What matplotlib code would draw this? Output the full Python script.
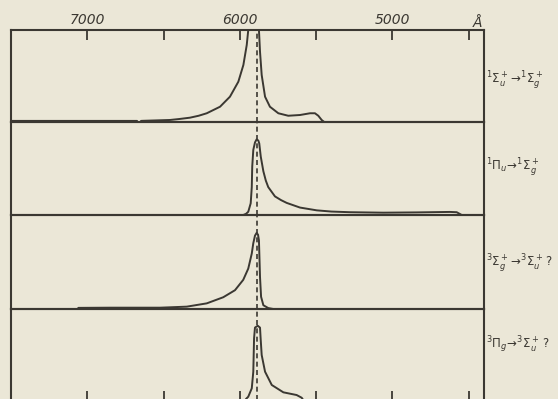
import numpy as np
import matplotlib
matplotlib.use("Agg")
import matplotlib.pyplot as plt

nan = np.nan

# wavelength axis (Angstrom), reversed
x_left, x_right = 7500, 4400
tick_positions = [7000, 6500, 6000, 5500, 5000, 4500]
tick_labels = ["7000", "", "6000", "", "5000", ""]
na_line = 5890  # dashed reference line

labels = [r"$^1\Sigma_u^+\!\rightarrow\!{}^1\Sigma_g^+$",
          r"$^1\Pi_u\!\rightarrow\!{}^1\Sigma_g^+$",
          r"$^3\Sigma_g^+\!\rightarrow\!{}^3\Sigma_u^+\,?$",
          r"$^3\Pi_g\!\rightarrow\!{}^3\Sigma_u^+\,?$"]

# panel 1: 1Σu+ -> 1Σg+
wl1 = [7500, 6674, nan, 6648, 6635, 6458, 6400, 6327, 6270, 6217, 6130, 6065,
       6010, 5977, 5955, 5945, 5925, 5905, 5885, 5875, 5868, 5857, 5835, 5803,
       5748, 5683, 5606, 5540, 5508, 5486, 5464, 5447]
I1 = [0.012, 0.012, nan, 0.012, 0.013, 0.022, 0.032, 0.047, 0.068, 0.095, 0.166,
      0.275, 0.438, 0.62, 0.837, 1.0, 1.5, 1.8, 1.5, 1.0, 0.764, 0.511, 0.275,
      0.166, 0.095, 0.068, 0.076, 0.095, 0.095, 0.068, 0.022, 0.0]

# panel 2: 1Πu -> 1Σg+
wl2 = [6100, 5978, 5960, 5945, 5929, 5922, 5919, 5912, 5901, 5890, 5879, 5873,
       5863, 5846, 5830, 5814, 5770, 5730, 5693, 5606, 5496, 5400, 5278, 5060,
       4841, 4623, 4579, 4546]
I2 = [0.0, 0.0, 0.012, 0.035, 0.126, 0.30, 0.52, 0.70, 0.78, 0.814, 0.80, 0.77,
      0.627, 0.47, 0.37, 0.30, 0.20, 0.16, 0.13, 0.08, 0.05, 0.037, 0.03, 0.025,
      0.028, 0.033, 0.03, 0.0]

# panel 3: 3Σg+ -> 3Σu+ ?
wl3 = [7059, 6851, 6523, 6348, 6217, 6109, 6032, 5978, 5945, 5922, 5912, 5901,
       5890, 5881, 5875, 5868, 5861, 5846, 5814, 5781]
I3 = [0.012, 0.014, 0.014, 0.025, 0.06, 0.125, 0.20, 0.31, 0.43, 0.59, 0.70,
      0.78, 0.81, 0.79, 0.73, 0.34, 0.13, 0.04, 0.01, 0.0]

# panel 4: 3Πg -> 3Σu+ ?
wl4 = [5973, 5960, 5945, 5922, 5912, 5907, 5901, 5883, 5868, 5864, 5857, 5835,
       5791, 5715, 5628, 5595, 5584, 5566]
I4 = [0.0, 0.032, 0.057, 0.147, 0.326, 0.685, 0.80, 0.82, 0.80, 0.685, 0.505,
      0.326, 0.183, 0.104, 0.075, 0.046, 0.02, 0.0]

series = [(wl1, I1), (wl2, I2), (wl3, I3), (wl4, I4)]

bg = "#ebe7d7"
ink = "#3b3832"

W, H = 558, 399
fig = plt.figure(figsize=(W / 100, H / 100), dpi=100, facecolor=bg)

# panel pixel geometry (top, bottom) in image pixels
panel_px = [(30, 122), (122, 215), (215, 309), (309, 402)]
label_y = [80, 167, 263, 345]
left_px, right_px = 11, 484

for i, ((top, bot), (wl, I)) in enumerate(zip(panel_px, series)):
    ax = fig.add_axes([left_px / W, (H - bot) / H, (right_px - left_px) / W, (bot - top) / H])
    ax.set_facecolor("none")
    ax.set_xlim(x_left, x_right)
    ax.set_ylim(0, 1)
    ax.plot(wl, I, color=ink, lw=1.4, solid_joinstyle="round", solid_capstyle="round")
    ax.axvline(na_line, color=ink, lw=1.2, ls=(0, (3, 2)))
    for s in ax.spines.values():
        s.set_color(ink)
        s.set_linewidth(1.5)
    ax.set_yticks([])
    if i == 0:
        ax.xaxis.tick_top()
        ax.set_xticks(tick_positions)
        ax.set_xticklabels(tick_labels, fontsize=10, style="italic", color=ink)
        ax.tick_params(axis="x", direction="in", length=7, width=1.3, color=ink, pad=2)
        ax.text(4440, 1.0, "Å", transform=ax.transData, fontsize=10, style="italic",
                color=ink, ha="center", va="bottom")
    elif i == 3:
        ax.set_xticks(tick_positions)
        ax.set_xticklabels([])
        ax.tick_params(axis="x", direction="in", length=8, width=1.3, color=ink)
    else:
        ax.set_xticks([])
    fig.text(486 / W, 1 - label_y[i] / H, labels[i], fontsize=8.5, color=ink,
             ha="left", va="center")

fig.savefig("out.png", dpi=100, facecolor=bg)
